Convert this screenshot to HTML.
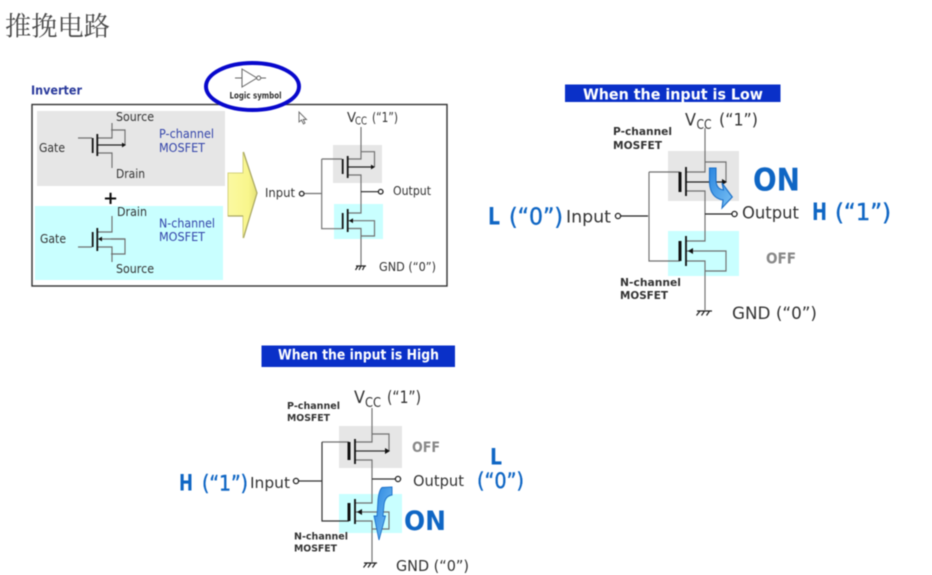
<!DOCTYPE html>
<html lang="zh">
<head>
<meta charset="utf-8">
<title>推挽电路</title>
<style>
html,body{margin:0;padding:0;background:#fff;width:932px;height:575px;overflow:hidden}
svg{display:block;filter:blur(.4px)}
text{font-family:"DejaVu Sans","Liberation Sans",sans-serif;fill:#333}
.w{fill:none;stroke:#707070;stroke-width:1.15}
.b{fill:none;stroke:#222;stroke-width:1.2}
.k{fill:none;stroke:#111;stroke-width:1.8}
.k3{fill:none;stroke:#111;stroke-width:3}
.d{fill:#fff;stroke:#222;stroke-width:1.3}
.hd{fill:#fff;font-weight:bold}
.blue{fill:#0f66c4;font-weight:bold}
.bp{fill:#0f66c4}
.off{fill:#888;font-weight:bold}
.sm{fill:#333;font-weight:bold}
.pb{fill:#3344aa}
</style>
</head>
<body>
<svg xmlns="http://www.w3.org/2000/svg" width="932" height="575" viewBox="0 0 932 575">
<defs>
<linearGradient id="y" x1="0" x2="1" y1="0" y2="0">
<stop offset="0" stop-color="#fbf9a2"/><stop offset=".7" stop-color="#f9f68c"/><stop offset="1" stop-color="#e4e176"/>
</linearGradient>
<linearGradient id="arw" x1="0" x2="1" y1="0" y2="1">
<stop offset="0" stop-color="#2a86e0"/><stop offset="1" stop-color="#7cc2f4"/>
</linearGradient>
</defs>

<text x="5" y="35.5" font-size="26.5" style="font-family:'Noto Serif CJK SC','Noto Sans CJK SC',serif;fill:#4a4a4a" textLength="105" lengthAdjust="spacingAndGlyphs">推挽电路</text>

<!-- Inverter panel -->
<text x="31" y="94.5" font-size="12" font-weight="bold" style="fill:#2a3a9c" textLength="51" lengthAdjust="spacingAndGlyphs">Inverter</text>
<rect x="32" y="104.5" width="415" height="181.5" fill="#fff" stroke="#333" stroke-width="1.4"/>
<rect x="37" y="111" width="188" height="75" fill="#e6e6e6"/>
<rect x="35" y="206" width="188" height="74" fill="#c9ffff"/>

<!-- left P symbol -->
<path class="w" d="M78 138H92M97 138H112V123M111 130H125V145M97 153H112V168"/>
<path class="b" d="M97 145H123"/>
<path d="M126 145l-4-2.4v4.8z" fill="#111"/>
<path class="k" d="M92.7 138V153M97.3 134V156"/>
<!-- left N symbol -->
<path class="w" d="M78 247H92M97 232H112V216M97 247H112V262M111 239H125V254H111"/>
<path class="w" d="M101 239H125"/>
<path d="M98 239l4-2.4v4.8z" fill="#111"/>
<path class="k" d="M92.7 232V247M97.3 228V251"/>

<text x="116" y="121" font-size="12" textLength="38" lengthAdjust="spacingAndGlyphs">Source</text>
<text x="39" y="152" font-size="12" textLength="26" lengthAdjust="spacingAndGlyphs">Gate</text>
<text x="116" y="178" font-size="12" textLength="29" lengthAdjust="spacingAndGlyphs">Drain</text>
<text class="pb" x="159" y="138" font-size="12" textLength="55" lengthAdjust="spacingAndGlyphs">P-channel</text>
<text class="pb" x="159" y="152" font-size="12" textLength="46" lengthAdjust="spacingAndGlyphs">MOSFET</text>
<text x="103" y="204" font-size="18" font-weight="bold" style="fill:#111">+</text>
<text x="117" y="216" font-size="12" textLength="30" lengthAdjust="spacingAndGlyphs">Drain</text>
<text class="pb" x="159" y="227.5" font-size="12" textLength="56" lengthAdjust="spacingAndGlyphs">N-channel</text>
<text class="pb" x="159" y="241" font-size="12" textLength="46" lengthAdjust="spacingAndGlyphs">MOSFET</text>
<text x="40" y="243" font-size="12" textLength="26" lengthAdjust="spacingAndGlyphs">Gate</text>
<text x="116" y="273" font-size="12" textLength="38" lengthAdjust="spacingAndGlyphs">Source</text>

<!-- yellow arrow -->
<polygon points="228,173 243,173 243,152 257,193 243,238 243,216 228,216" fill="url(#y)" stroke="#d4d27e" stroke-width="1"/>
<path d="M243.5 152L257 193L243.5 238M228 216H243" fill="none" stroke="#a9a762" stroke-width="1.2"/>

<!-- logic symbol -->
<ellipse cx="252.5" cy="86.5" rx="46.5" ry="23.5" fill="#fff" stroke="#0808cc" stroke-width="4"/>
<path d="M242 69L257 78L242 87Z M235 78H242 M261 78H266" fill="none" stroke="#666" stroke-width="1"/>
<circle cx="258.7" cy="78" r="2" fill="#fff" stroke="#666"/>
<text x="229.5" y="98.5" font-size="8.5" font-weight="bold" textLength="52" lengthAdjust="spacingAndGlyphs">Logic symbol</text>

<!-- cursor -->
<path d="M299 112V122L301.5 120L303.5 124L305 123L303.2 119.5L306.5 119.5Z" fill="#fff" stroke="#666" stroke-width=".9"/>

<!-- top inverter circuit -->
<rect x="333" y="145" width="49" height="38" fill="#e6e6e6"/>
<rect x="334" y="204" width="49" height="35" fill="#c9ffff"/>
<path class="w" d="M361 127V159H348M361 151.7H374.5V167M348 175H361V213H348M321.7 159H342M321.7 159V228.7H342M304 193.5H321.7M348 220.7H374.5V236H361M348 228.5H361V265.7"/>
<path class="b" d="M348 167H372M361 191.7H378"/>
<path d="M375 167l-4-2.4v4.8z" fill="#111"/>
<path d="M349 220.7l4-2.4v4.8z" fill="#111"/>
<path class="k" d="M342.7 159V174M347.7 156V178M342.7 213V229M347.7 209V232"/>
<circle class="d" cx="301.7" cy="193.7" r="2.3"/>
<circle class="d" cx="380.7" cy="191.7" r="2.3"/>
<path class="b" d="M356 266H366M358 266l-2.5 4M361 266l-2 4M364.5 266l-2 4"/>
<text x="347" y="122" font-size="13" textLength="9" lengthAdjust="spacingAndGlyphs">V</text>
<text x="355" y="124.5" font-size="10.5" textLength="12" lengthAdjust="spacingAndGlyphs">CC</text>
<text x="372" y="122" font-size="13" textLength="26" lengthAdjust="spacingAndGlyphs">(“1”)</text>
<text x="265" y="197" font-size="12" textLength="30" lengthAdjust="spacingAndGlyphs">Input</text>
<text x="393" y="195" font-size="12" textLength="38" lengthAdjust="spacingAndGlyphs">Output</text>
<text x="379" y="271" font-size="12" textLength="57" lengthAdjust="spacingAndGlyphs">GND (“0”)</text>

<!-- When the input is Low -->
<rect x="565" y="84.5" width="215.5" height="17.5" fill="#0a30c8"/>
<text class="hd" x="583" y="99.5" font-size="15.5" textLength="180" lengthAdjust="spacingAndGlyphs">When the input is Low</text>

<rect x="668" y="151" width="71" height="50" fill="#e6e6e6"/>
<rect x="668" y="231" width="71" height="45" fill="#c9ffff"/>
<path class="w" d="M705 128V172H686M705 162H726V182M686 191H705V241H686M649 172H680M649 172V261H680M686 261H705V310M686 251H726V271H705"/>
<path class="b" d="M621 216H648M705 214H732M686 182H724"/>
<path d="M727 182l-5-3v6z" fill="#111"/>
<path d="M688 251l5-3v6z" fill="#111"/>
<path class="k3" d="M680 172V192M680 241V261"/>
<path class="k" d="M686 167V196M686 236V266"/>
<circle class="d" cx="618" cy="216" r="2.6"/>
<circle class="d" cx="734.5" cy="214" r="2.6"/>
<path class="b" d="M697 311H712M700 311l-3.5 4.5M704.5 311l-3 4.5M709.5 311l-3 4.5"/>
<path d="M709.5 168H716V181Q716.5 189 723.5 190L722 183L732.3 197L722 208L723 200Q710.5 198 709.5 183Z" fill="url(#arw)" stroke="#1a6fc8" stroke-width="1.1"/>

<text x="685" y="125.5" font-size="17" textLength="11" lengthAdjust="spacingAndGlyphs">V</text>
<text x="696.5" y="129" font-size="13" textLength="15" lengthAdjust="spacingAndGlyphs">CC</text>
<text x="719" y="125.5" font-size="17" textLength="39" lengthAdjust="spacingAndGlyphs">(“1”)</text>
<text class="sm" x="613" y="135" font-size="11" textLength="59" lengthAdjust="spacingAndGlyphs">P-channel</text>
<text class="sm" x="613" y="149" font-size="11" textLength="49" lengthAdjust="spacingAndGlyphs">MOSFET</text>
<text class="blue" x="753" y="190.5" font-size="31" textLength="47" lengthAdjust="spacingAndGlyphs">ON</text>
<text class="off" x="766" y="263.5" font-size="15" textLength="30" lengthAdjust="spacingAndGlyphs">OFF</text>
<text x="742" y="218.5" font-size="16.5" textLength="57" lengthAdjust="spacingAndGlyphs">Output</text>
<text x="566" y="222.5" font-size="16.5" textLength="45" lengthAdjust="spacingAndGlyphs">Input</text>
<text class="blue" x="488" y="224.5" font-size="24" textLength="12" lengthAdjust="spacingAndGlyphs">L</text>
<text class="bp" x="509" y="224.5" font-size="23" textLength="54" lengthAdjust="spacingAndGlyphs" stroke="#0f66c4" stroke-width=".4">(“0”)</text>
<text class="blue" x="812" y="220" font-size="24" textLength="15" lengthAdjust="spacingAndGlyphs">H</text>
<text class="bp" x="835" y="220" font-size="23" textLength="56" lengthAdjust="spacingAndGlyphs" stroke="#0f66c4" stroke-width=".4">(“1”)</text>
<text class="sm" x="620" y="286" font-size="11" textLength="61" lengthAdjust="spacingAndGlyphs">N-channel</text>
<text class="sm" x="620" y="299" font-size="11" textLength="48" lengthAdjust="spacingAndGlyphs">MOSFET</text>
<text x="732" y="319" font-size="16.5" textLength="85" lengthAdjust="spacingAndGlyphs">GND (“0”)</text>

<!-- When the input is High -->
<rect x="261.5" y="345.5" width="193.5" height="21.5" fill="#0a30c8"/>
<text class="hd" x="278" y="359.5" font-size="14.5" textLength="161" lengthAdjust="spacingAndGlyphs">When the input is High</text>

<rect x="339" y="426" width="63" height="42" fill="#e6e6e6"/>
<rect x="339" y="494" width="63" height="39" fill="#c9ffff"/>
<path class="w" d="M372 408V442H355M372 434H389V451M355 460H372V503H355M322 442H349M355 521H372V562M355 512H389V529H372"/>
<path class="b" d="M322 442V521H349M299 481H322M372 479H395M355 451H387" style="stroke:#333"/>
<path d="M390 451l-5-3v6z" fill="#111"/>
<path d="M357 512l5-3v6z" fill="#111"/>
<path class="k3" d="M349 442V460M349 503V521"/>
<path class="k" d="M355 439V464M355 499V524"/>
<circle class="d" cx="296" cy="481" r="2.6"/>
<circle class="d" cx="398" cy="479" r="2.6"/>
<path class="b" d="M364 563H377M367 563l-3.5 4.5M371 563l-3 4.5M375.5 563l-3 4.5"/>
<path d="M392 487V495Q385 496 384 505L383 516H385.5L379 540L374 516H377L378 500Q379 490 382 487.5Z" fill="url(#arw)" stroke="#1a6fc8" stroke-width=".9"/>

<text x="354" y="403" font-size="16.5" textLength="11" lengthAdjust="spacingAndGlyphs">V</text>
<text x="365" y="407" font-size="13" textLength="16" lengthAdjust="spacingAndGlyphs">CC</text>
<text x="387" y="403" font-size="16.5" textLength="34" lengthAdjust="spacingAndGlyphs">(“1”)</text>
<text class="sm" x="287" y="409" font-size="10" textLength="53" lengthAdjust="spacingAndGlyphs">P-channel</text>
<text class="sm" x="287" y="421" font-size="10" textLength="43" lengthAdjust="spacingAndGlyphs">MOSFET</text>
<text class="off" x="412" y="452" font-size="14" textLength="28" lengthAdjust="spacingAndGlyphs">OFF</text>
<text x="413" y="486" font-size="15.5" textLength="51" lengthAdjust="spacingAndGlyphs">Output</text>
<text class="blue" x="404" y="530" font-size="27" textLength="42" lengthAdjust="spacingAndGlyphs">ON</text>
<text class="sm" x="294" y="539.5" font-size="10" textLength="54" lengthAdjust="spacingAndGlyphs">N-channel</text>
<text class="sm" x="294" y="551.5" font-size="10" textLength="43" lengthAdjust="spacingAndGlyphs">MOSFET</text>
<text x="396" y="571" font-size="15.5" textLength="73" lengthAdjust="spacingAndGlyphs">GND (“0”)</text>
<text x="250" y="488" font-size="15.5" textLength="40" lengthAdjust="spacingAndGlyphs">Input</text>
<text class="blue" x="179" y="490.5" font-size="22" textLength="14" lengthAdjust="spacingAndGlyphs">H</text>
<text class="bp" x="202" y="490.5" font-size="21" textLength="46" lengthAdjust="spacingAndGlyphs" stroke="#0f66c4" stroke-width=".4">(“1”)</text>
<text class="blue" x="490" y="464.5" font-size="22" textLength="12" lengthAdjust="spacingAndGlyphs">L</text>
<text class="bp" x="477" y="488" font-size="21" textLength="47" lengthAdjust="spacingAndGlyphs" stroke="#0f66c4" stroke-width=".4">(“0”)</text>
</svg>
</body>
</html>
